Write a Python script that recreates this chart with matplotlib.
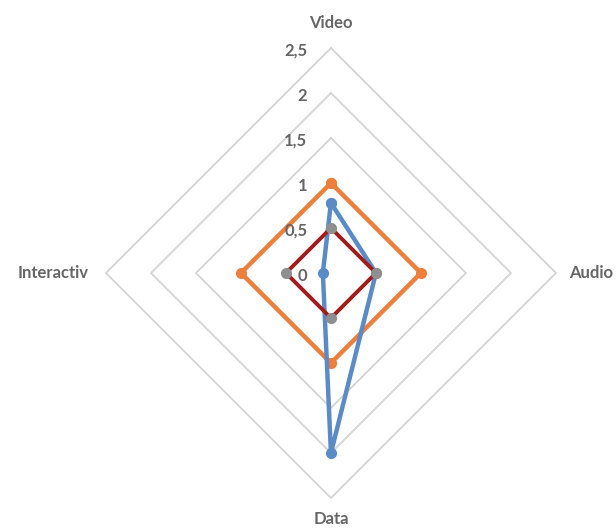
import numpy as np
import matplotlib
matplotlib.use('Agg')
from matplotlib import pyplot as plt

categories = ['Video', 'Audio', 'Data', 'Interactiv']
blue_values = [0.78, 0.5, 2.0, 0.09]
orange_values = [1.0, 1.0, 1.0, 1.0]
red_values = [0.5, 0.5, 0.5, 0.5]
ring_values = [0.5, 1.0, 1.5, 2.0, 2.5]
tick_values = [0, 0.5, 1, 1.5, 2, 2.5]
tick_labels = ['0', '0,5', '1', '1,5', '2', '2,5']

plt.rcParams['font.family'] = ['Lato', 'DejaVu Sans']

angles = np.linspace(0, 2 * np.pi, len(categories), endpoint=False)
closed = np.append(angles, angles[0])


def close(vals):
    return np.append(vals, vals[0])


fig = plt.figure(figsize=(6.16, 5.31), dpi=100)
fig.set_facecolor('white')
ax = fig.add_axes([0.172, 0.0621, 0.7305, 0.8475], projection='polar')
ax.set_theta_zero_location('N')
ax.set_theta_direction(-1)
ax.set_ylim(0, 2.5)
ax.grid(False)
ax.spines['polar'].set_visible(False)
ax.set_xticks([])
ax.set_yticks([])
ax.patch.set_alpha(0)

# diamond grid rings
for r in ring_values:
    ax.plot(closed, [r] * len(closed), color='#d4d4d4', lw=1.3, zorder=1, clip_on=False)

ax.plot(closed, close(orange_values), color='#ec7f3c', lw=3.2, marker='o', ms=7,
        zorder=3, clip_on=False)
ax.plot(closed, close(blue_values), color='#5b8bc6', lw=3.2, marker='o', ms=7,
        zorder=4, clip_on=False)
ax.plot(closed, close(red_values), color='#a01c1c', lw=2.8, zorder=5, clip_on=False)
ax.plot(angles, red_values, ls='none', marker='o', ms=7, color='#8f8f8f', zorder=6,
        clip_on=False)

# value labels along the Video axis
for v, lab in zip(tick_values, tick_labels):
    ax.annotate(lab, xy=(0, v), xytext=(-17, -2), textcoords='offset points',
                ha='right', va='center', fontsize=12, fontweight='bold', color='#666666')

# category labels
offsets = [(0, 18), (25, 0), (0, -15), (-38, 0)]
for a, name, off in zip(angles, categories, offsets):
    ax.annotate(name, xy=(a, 2.5), xytext=off, textcoords='offset points',
                ha='center', va='center', fontsize=12, fontweight='bold', color='#666666',
                annotation_clip=False)

plt.savefig('out.png', dpi=100)
